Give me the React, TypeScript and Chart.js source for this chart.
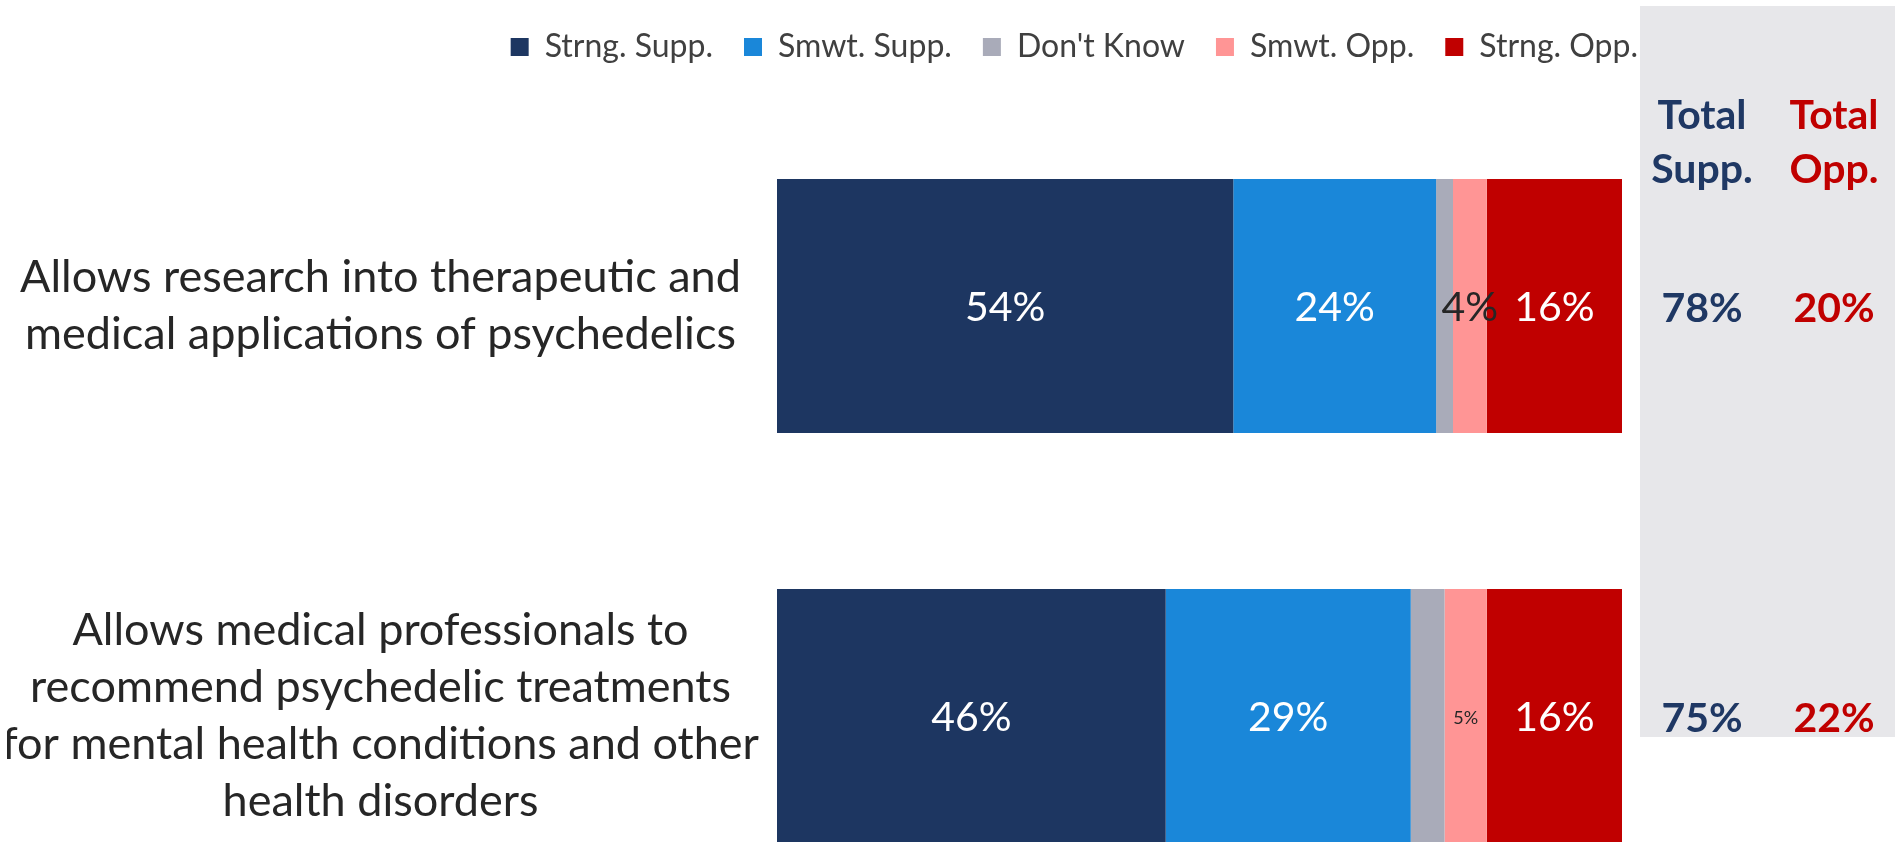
import React, { useEffect, useRef } from "react";
import { Chart, registerables } from "chart.js";

Chart.register(...registerables);

// ---------- data ----------
const categories: string[][] = [
  ["Allows research into therapeutic and", "medical applications of psychedelics"],
  [
    "Allows medical professionals to",
    "recommend psychedelic treatments",
    "for mental health conditions and other",
    "health disorders",
  ],
];
const seriesNames = ["Strng. Supp.", "Smwt. Supp.", "Don't Know", "Smwt. Opp.", "Strng. Opp."];
const strongSupp = [54, 46];
const smwtSupp = [24, 29];
const dontKnow = [2, 4];
const smwtOpp = [4, 5];
const strongOpp = [16, 16];
const totalSupp = [78, 75];
const totalOpp = [20, 22];
const suppHeader = ["Total", "Supp."];
const oppHeader = ["Total", "Opp."];

// ---------- styles ----------
const seriesColors = ["#1d3661", "#1a87d9", "#a9abb9", "#ff9595", "#c00000"];
const NAVY = "#1f3864";
const RED = "#c00000";
const PANEL_BG = "#e7e7ea";
const FONT = "Lato";

const segmentLabels = {
  id: "segmentLabels",
  afterDatasetsDraw(chart: any) {
    const ctx = chart.ctx;
    chart.data.datasets.forEach((ds: any, i: number) => {
      if (i === 2) return; // "Don't Know" not labelled
      const meta = chart.getDatasetMeta(i);
      meta.data.forEach((bar: any, j: number) => {
        const v = ds.data[j];
        const small = i === 3 && j === 1;
        const cx = (bar.x + bar.base) / 2;
        ctx.save();
        ctx.font = `${small ? 18 : 41}px ${FONT}`;
        ctx.fillStyle = i === 3 ? "#262626" : "#ffffff";
        ctx.textAlign = "center";
        ctx.textBaseline = "middle";
        ctx.fillText(`${v}%`, cx, bar.y + 2);
        ctx.restore();
      });
    });
  },
};

const totalsPanel = {
  id: "totalsPanel",
  beforeDraw(chart: any) {
    const { ctx, width } = chart;
    const left = chart.chartArea.right + 18;
    ctx.save();
    ctx.fillStyle = PANEL_BG;
    ctx.fillRect(left, 6, width - left, 731);
    ctx.restore();
  },
  afterDraw(chart: any) {
    const { ctx } = chart;
    const left = chart.chartArea.right + 18;
    const xs = [left + 62, left + 194];
    const yScale = chart.scales.y;
    ctx.save();
    ctx.font = `bold 41px ${FONT}`;
    ctx.textAlign = "center";
    ctx.textBaseline = "alphabetic";
    [suppHeader, oppHeader].forEach((hdr, c) => {
      ctx.fillStyle = c === 0 ? NAVY : RED;
      hdr.forEach((line, k) => ctx.fillText(line, xs[c], 129 + k * 54));
    });
    ctx.textBaseline = "middle";
    categories.forEach((_, j) => {
      const y = yScale.getPixelForValue(j) + 3;
      ctx.fillStyle = NAVY;
      ctx.fillText(`${totalSupp[j]}%`, xs[0], y);
      ctx.fillStyle = RED;
      ctx.fillText(`${totalOpp[j]}%`, xs[1], y);
    });
    ctx.restore();
  },
};

export default function App() {
  const ref = useRef<HTMLCanvasElement | null>(null);

  useEffect(() => {
    let chart: Chart | null = null;
    let cancelled = false;
    const make = () => {
      if (cancelled || !ref.current) return;
      const values = [strongSupp, smwtSupp, dontKnow, smwtOpp, strongOpp];
      chart = new Chart(ref.current, {
        type: "bar",
        data: {
          labels: categories as any,
          datasets: seriesNames.map((name, i) => ({
            label: name,
            data: values[i],
            backgroundColor: seriesColors[i],
            borderWidth: 0,
            barPercentage: 0.62,
            categoryPercentage: 1,
          })),
        },
        options: {
          indexAxis: "y",
          responsive: false,
          animation: false,
          devicePixelRatio: 1,
          layout: { padding: { top: 0, left: 7, right: 226, bottom: 9 } },
          plugins: {
            legend: {
              position: "top",
              align: "end",
              labels: {
                font: { family: FONT, size: 32 },
                color: "#404040",
                boxWidth: 18,
                boxHeight: 18,
                padding: 31,
              },
            },
            tooltip: { enabled: false },
          },
          scales: {
            x: {
              stacked: true,
              min: 0,
              max: 100,
              position: "top",
              grid: { display: false },
              border: { display: false },
              ticks: { display: false },
              afterFit: (s: any) => {
                s.height = 28;
              },
            },
            y: {
              stacked: true,
              grid: { display: false },
              border: { display: false },
              ticks: {
                crossAlign: "center",
                padding: 10,
                color: "#262626",
                font: { family: FONT, size: 45, lineHeight: 1.27 },
              },
              afterFit: (s: any) => {
                s.width = 770;
                s.paddingTop = 0;
                s.paddingBottom = 0;
              },
            },
            yr: {
              type: "category",
              position: "right",
              grid: { display: false },
              border: { display: false },
              ticks: { display: false },
              afterFit: (s: any) => {
                s.width = 47;
                s.paddingTop = 0;
                s.paddingBottom = 0;
              },
            },
          },
        } as any,
        plugins: [segmentLabels, totalsPanel],
      });
    };
    const fonts: any = (document as any).fonts;
    if (fonts && fonts.load) {
      Promise.all([
        fonts.load(`45px ${FONT}`),
        fonts.load(`bold 41px ${FONT}`),
      ]).then(make, make);
    } else {
      make();
    }
    return () => {
      cancelled = true;
      if (chart) chart.destroy();
    };
  }, []);

  return (
    <div
      style={{
        position: "fixed",
        left: 0,
        top: 0,
        width: 1895,
        height: 842,
        overflow: "hidden",
        background: "#ffffff",
      }}
    >
      <canvas ref={ref} width={1895} height={930} style={{ display: "block" }} />
    </div>
  );
}
